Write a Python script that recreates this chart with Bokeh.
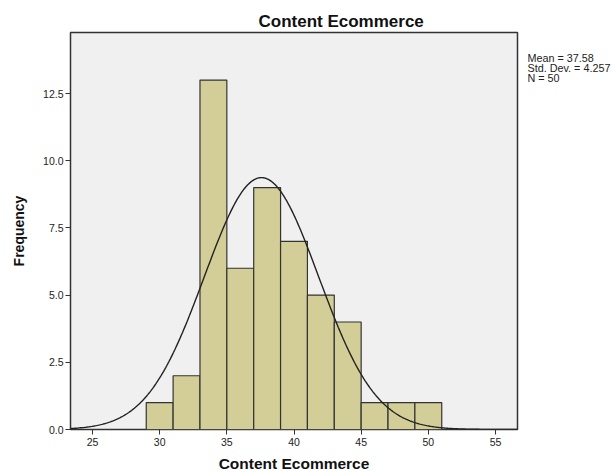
import numpy as np
from bokeh.plotting import figure
from bokeh.layouts import row
from bokeh.models import FixedTicker, PrintfTickFormatter, Label, Range1d
from bokeh.embed import file_html
from bokeh.resources import INLINE

bin_left = [29, 31, 33, 35, 37, 39, 41, 43, 45, 47, 49]
bin_right = [31, 33, 35, 37, 39, 41, 43, 45, 47, 49, 51]
counts = [1, 2, 13, 6, 9, 7, 5, 4, 1, 1, 1]
mean = 37.58
std = 4.257
n = 50
bin_width = 2
x_ticks = [25, 30, 35, 40, 45, 50, 55]
y_ticks = [0.0, 2.5, 5.0, 7.5, 10.0, 12.5]
stats_lines = ["Mean = 37.58", "Std. Dev. = 4.257", "N = 50"]

FONT = "Liberation Sans"

p = figure(width=519, height=474, output_backend="svg", toolbar_location=None,
           x_range=Range1d(23.36, 56.64), y_range=Range1d(0, 14.77),
           min_border_left=70, min_border_right=2, min_border_top=32, min_border_bottom=45,
           title="Content Ecommerce")

p.background_fill_color = "#F0F0F0"
p.border_fill_color = "white"
p.outline_line_color = "#333333"
p.outline_line_width = 1.5
p.grid.visible = False

p.title.align = "left"
p.title.offset = 188
p.title.standoff = 4
p.title.text_font = FONT
p.title.text_font_size = "17px"
p.title.text_font_style = "bold"
p.title.text_color = "#111111"

p.quad(left=bin_left, right=bin_right, bottom=0, top=counts,
       fill_color="#D3CE97", line_color="#333333", line_width=1.2)

xs = np.linspace(23.36, 56.64, 400)
ys = n * bin_width * np.exp(-0.5 * ((xs - mean) / std) ** 2) / (std * np.sqrt(2 * np.pi))
p.line(xs, ys, line_color="#222222", line_width=1.4)

for ax in (p.xaxis[0], p.yaxis[0]):
    ax.axis_line_color = None
    ax.major_tick_in = 0
    ax.major_tick_out = 5
    ax.major_tick_line_color = "#333333"
    ax.minor_tick_line_color = None
    ax.major_label_text_font = FONT
    ax.major_label_text_font_size = "10.5px"
    ax.major_label_text_color = "#222222"
    ax.axis_label_text_font = FONT
    ax.axis_label_text_font_style = "bold"
    ax.axis_label_text_color = "#111111"

p.xaxis.ticker = FixedTicker(ticks=x_ticks)
p.yaxis.ticker = FixedTicker(ticks=y_ticks)
p.yaxis.formatter = PrintfTickFormatter(format="%.1f")
p.xaxis.axis_label = "Content Ecommerce"
p.yaxis.axis_label = "Frequency"
p.xaxis.axis_label_text_font_size = "15.5px"
p.yaxis.axis_label_text_font_size = "14px"
p.xaxis.major_label_standoff = 3
p.yaxis.major_label_standoff = 2
p.xaxis.axis_label_standoff = 6
p.yaxis.axis_label_standoff = 13

# side panel holding the statistics text; its frame spans the same rows as the main frame
s = figure(width=97, height=474, output_backend="svg", toolbar_location=None,
           x_range=Range1d(0, 97), y_range=Range1d(429, 32),
           x_axis_location=None, y_axis_location=None,
           min_border_left=0, min_border_right=0, min_border_top=32, min_border_bottom=45)
s.outline_line_color = None
s.background_fill_color = "white"
s.border_fill_color = "white"
s.grid.visible = False

stat_y = [57.5, 67.5, 77.5]
for yy, line in zip(stat_y, stats_lines):
    s.add_layout(Label(x=8, y=yy, text=line, text_font=FONT,
                       text_font_size="10.8px", text_color="#222222",
                       text_baseline="middle", text_align="left"))

layout = row(p, s, spacing=0)
open("out.html", "w").write(file_html(layout, INLINE))
